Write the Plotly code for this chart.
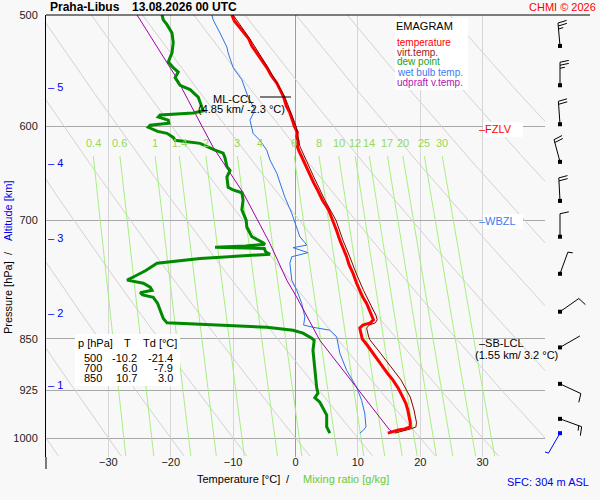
import numpy as np
import plotly.graph_objects as go

# Praha-Libus sounding, 13.08.2026 00 UTC
temp_p = [500, 505, 510, 515, 520, 526, 532, 538, 545, 552, 559, 566, 572, 580, 587, 594, 600, 606, 610, 615,
          620, 624, 631, 640, 650, 658, 667, 677, 688, 700, 712, 723, 733, 743, 753, 763, 776, 785, 794, 802,
          811, 818, 824, 828, 831, 835, 840, 846, 850, 860, 870, 880, 890, 900, 909, 922, 935, 945, 955, 965,
          975, 982, 985, 987, 990, 992]
temp_t = [-10.2, -9.8, -9.0, -8.3, -7.5, -7.0, -6.2, -5.5, -4.6, -3.9, -3.0, -2.4, -1.9, -1.5, -0.9, -0.5, -0.2, 0.3, 0.2, 0.4,
          0.3, 0.5, 1.0, 1.6, 2.4, 2.9, 3.6, 4.3, 5.3, 6.0, 6.6, 7.1, 7.7, 8.2, 8.6, 9.2, 9.8, 10.3, 10.8, 11.4,
          11.9, 12.3, 12.5, 12.0, 10.8, 10.3, 10.4, 10.6, 10.7, 11.6, 12.4, 13.2, 14.0, 14.8, 15.6, 16.5, 17.2, 17.7, 18.0, 18.2,
          18.4, 18.4, 17.5, 16.5, 15.2, 14.8]

virt_p = [500, 520, 545, 572, 600, 620, 650, 677, 700, 723, 743, 763, 785, 802, 818, 824, 828, 831, 835, 846,
          851, 870, 890, 909, 935, 955, 975, 982, 985, 990, 992]
virt_t = [-10.0, -7.3, -4.4, -1.7, 0.1, 0.7, 2.8, 4.7, 6.5, 7.6, 8.7, 9.7, 10.9, 12.0, 12.9, 13.1, 12.8, 11.8, 11.4, 11.7,
          11.9, 13.6, 15.3, 16.9, 18.4, 19.0, 19.4, 19.3, 18.5, 16.3, 15.9]

dew_p = [500, 504, 508, 515, 523, 532, 540, 545, 549, 554, 561, 565, 572, 581, 585, 587, 589, 591, 594, 597,
         599, 601, 605, 607, 611, 614, 617, 624, 627, 632, 641, 645, 652, 663, 666, 669, 677, 688, 700, 708,
         715, 719, 726, 728, 730, 731.5, 733, 737, 740, 741, 745, 751, 760, 768, 772, 776, 781, 785, 788, 791,
         794, 802, 811, 822, 828, 830, 834, 838, 842, 849, 852, 866, 895, 921, 929, 936, 943, 952, 963, 982,
         992]
dew_t = [-21.4, -21.2, -20.6, -19.8, -19.6, -19.8, -20.4, -19.6, -18.8, -19.3, -18.5, -16.9, -15.6, -15.0, -14.8, -16.4, -21.7, -22.0, -20.4, -20.3,
         -23.3, -23.6, -22.1, -20.6, -19.6, -19.3, -15.3, -12.9, -11.6, -11.3, -11.0, -10.5, -11.0, -10.8, -10.0, -8.6, -8.4, -8.6, -7.9, -7.8,
         -7.3, -7.0, -5.2, -4.9, -8.0, -12.9, -5.0, -4.8, -4.1, -6.2, -15.3, -22.2, -24.0, -26.0, -27.0, -24.4, -23.3, -23.0, -24.9, -24.5,
         -22.8, -22.1, -21.7, -21.2, -20.6, -15.3, -4.6, -0.4, 1.2, 2.6, 3.0, 2.8, 3.1, 3.4, 3.6, 3.1, 3.9, 4.4, 5.0, 5.0,
         5.5]

wetb_p = [500, 504, 515, 527, 532, 545, 556, 572, 584, 590, 594, 607, 614, 624, 634, 648, 674, 692, 708, 719,
          726, 729, 732, 738, 743, 751, 772, 785, 802, 820, 831, 834, 838, 847, 870, 895, 920, 940, 960, 982,
          988, 992]
wetb_t = [-13.4, -13.2, -12.1, -11.0, -10.8, -10.0, -8.6, -7.6, -6.5, -7.0, -7.3, -6.8, -5.7, -4.6, -4.1, -3.0, -1.7, -0.6, 0.2, 0.7,
          1.5, 1.8, -0.4, 2.0, -0.6, -0.9, -0.6, 0.2, 1.0, 1.5, 1.3, 2.8, 5.5, 6.6, 7.1, 8.2, 9.8, 10.6, 11.1, 11.3,
          10.8, 10.3]

parcel_p = [500, 554, 575, 621, 669, 727, 772, 794, 852, 914, 987, 990]
parcel_t = [-25.4, -19.1, -17.2, -13.2, -8.4, -4.1, -1.4, 0.2, 3.9, 9.2, 15.1, 15.6]

# wind barbs (direction deg, speed kt)
barb_p = [526, 561, 598, 636, 678, 719, 764, 813, 862, 915, 969]
barb_dir = [355, 0, 356, 345, 357, 0, 20, 55, 60, 115, 110]
barb_kt = [25, 25, 20, 20, 20, 10, 5, 10, 2, 10, 15]
sfc_p, sfc_dir, sfc_kt = 992, 210, 3

mixr_vals = [0.4, 0.6, 1, 1.4, 2, 3, 4, 6, 8, 10, 12, 14, 17, 20, 25, 30]
theta_vals = list(range(-40, 100, 10))   # dry adiabats, deg C at 1000 hPa
p_grid = [500, 600, 700, 850, 925, 1000]
t_ticks = [-30, -20, -10, 0, 10, 20, 30]

alt_km = [1, 2, 3, 4, 5]
alt_p = [917, 815, 720, 637, 563]

table_p = [500, 700, 850]
table_t = [-10.2, 6.0, 10.7]
table_td = [-21.4, -7.9, 3.0]

legend_items = [('temperature', '#ff0000'), ('virt.temp.', '#a01818'), ('dew point', '#22a022'),
                ('wet bulb temp.', '#3a7cf0'), ('udpraft v.temp.', '#b020b0')]

FONT = 'Liberation Sans, Arial, sans-serif'
W, H = 600, 500
ML, MR, MT, MB = 46, 8, 15, 43
PW, PH = W - ML - MR, H - MT - MB
P_TOP, P_BOT = 500, 1031.5
XDOM = 499 / PW
K = PH / np.log(P_BOT / P_TOP)   # px per unit of ln p


def fx(px):
    return (px - ML) / PW


def fy(py):
    return (H - MB - py) / PH


def td_from_w(w, p):
    e = w * p / (622 + w)
    a = np.log(e / 6.112)
    return 243.5 * a / (17.67 - a)


def barb_lines(p0, wdir, wspd, x0=560, shaft=23, full=9, half=5, gap=3):
    a = np.radians(wdir)
    fa = a + np.radians(78)

    def at(dist, flen=0):
        dx = dist * np.sin(a) + flen * np.sin(fa)
        du = dist * np.cos(a) + flen * np.cos(fa)
        return x0 + dx, p0 * np.exp(-du / K)

    segs = [(at(0), at(shaft))]
    n_full, n_half = divmod(int(round(wspd / 5)), 2)
    d = shaft
    for _ in range(n_full):
        segs.append((at(d), at(d, full)))
        d -= gap
    if n_half:
        segs.append((at(d), at(d, half)))
    xs, ys = [], []
    for (xa, ya), (xb, yb) in segs:
        xs += [xa, xb, None]
        ys += [ya, yb, None]
    return xs, ys


fig = go.Figure()

# dry adiabats
p_ad = np.geomspace(500, 1030, 80)
for th in theta_vals:
    t_ad = (th + 273.15) * (p_ad / 1000) ** 0.286 - 273.15
    fig.add_trace(go.Scatter(x=t_ad, y=p_ad, mode='lines', line=dict(color='#d2d2d2', width=1),
                             hoverinfo='skip', showlegend=False))

# mixing ratio lines
p_mix = np.geomspace(630, 1030, 30)
for w in mixr_vals:
    fig.add_trace(go.Scatter(x=td_from_w(w, p_mix), y=p_mix, mode='lines', line=dict(color='#a8ef80', width=1),
                             hoverinfo='skip', showlegend=False))

fig.add_trace(go.Scatter(x=wetb_t, y=wetb_p, mode='lines', line=dict(color='#2a72ea', width=1), showlegend=False))
fig.add_trace(go.Scatter(x=parcel_t, y=parcel_p, mode='lines', line=dict(color='#a000a8', width=1), showlegend=False))
fig.add_trace(go.Scatter(x=dew_t, y=dew_p, mode='lines', line=dict(color='#008a00', width=3), showlegend=False))
fig.add_trace(go.Scatter(x=temp_t, y=temp_p, mode='lines', line=dict(color='#ff0000', width=3), showlegend=False))
fig.add_trace(go.Scatter(x=virt_t, y=virt_p, mode='lines', line=dict(color='#8c0000', width=1), showlegend=False))

# wind barbs on their own narrow axis at the right
bx, by = [], []
for p0, d0, s0 in zip(barb_p, barb_dir, barb_kt):
    xs, ys = barb_lines(p0, d0, s0)
    bx += xs
    by += ys
fig.add_trace(go.Scatter(x=bx, y=by, xaxis='x2', yaxis='y2', mode='lines', line=dict(color='black', width=1),
                         hoverinfo='skip', showlegend=False))
fig.add_trace(go.Scatter(x=[560] * len(barb_p), y=barb_p, xaxis='x2', yaxis='y2', mode='markers',
                         marker=dict(color='black', size=4, symbol='square'), showlegend=False))
sx, sy = barb_lines(sfc_p, sfc_dir, sfc_kt)
fig.add_trace(go.Scatter(x=sx, y=sy, xaxis='x2', yaxis='y2', mode='lines', line=dict(color='#0000ff', width=1),
                         hoverinfo='skip', showlegend=False))
fig.add_trace(go.Scatter(x=[560], y=[sfc_p], xaxis='x2', yaxis='y2', mode='markers',
                         marker=dict(color='#0000ff', size=4, symbol='square'), showlegend=False))


def txt(text, x, y, size=11, color='black', xanchor='left', **kw):
    return dict(text=text, x=fx(x), y=fy(y), xref='paper', yref='paper', xanchor=xanchor, yanchor='middle',
                showarrow=False, borderpad=0, font=dict(family=FONT, size=size, color=color), **kw)


def box(x0, y0, x1, y1):
    return dict(type='rect', xref='paper', yref='paper', x0=fx(x0), x1=fx(x1), y0=fy(y1), y1=fy(y0),
                fillcolor='white', line=dict(width=0), layer='above')


def seg(x0, y0, x1, y1, color='black'):
    return dict(type='line', xref='paper', yref='paper', x0=fx(x0), x1=fx(x1), y0=fy(y0), y1=fy(y1),
                line=dict(color=color, width=1), layer='above')


annots = [
    txt('<b>Praha-Libus</b>', 49, 7, size=12),
    txt('<b>13.08.2026 00 UTC</b>', 131, 7, size=12),
    txt('CHMI © 2026', 597, 7, size=11, color='#ff0000', xanchor='right'),
    txt('EMAGRAM', 395, 26, size=11),
    txt('ML-CCL', 233, 99, xanchor='center'),
    txt('(4.85 km/ -2.3 °C)', 241, 109, xanchor='center'),
    txt('–FZLV', 478, 129, color='#ff0000'),
    txt('–WBZL', 478, 221, color='#3a7cf0'),
    txt('–SB-LCL', 478, 343),
    txt('(1.55 km/ 3.2 °C)', 516, 355, xanchor='center'),
    txt('SFC: 304 m ASL', 590, 482, color='#0000ee', xanchor='right'),
    txt('Temperature [°C]', 196, 479),
    txt('/', 288, 479, xanchor='center'),
    txt('Mixing ratio [g/kg]', 302, 479, color='#66cc33'),
    txt('Pressure [hPa]', 8, 298, xanchor='center', textangle=-90),
    txt('/', 8, 253, xanchor='center', textangle=-90),
    txt('Altitude [km]', 8, 211, color='#0000ee', xanchor='center', textangle=-90),
    txt('p [hPa]', 77, 343),
    txt('T', 127, 343, xanchor='center'),
    txt('Td [°C]', 142, 343),
]
for i, (name, col) in enumerate(legend_items):
    annots.append(txt(name, 396, 42 + 10 * i, size=10, color=col))
for i, (pp, tt, dd) in enumerate(zip(table_p, table_t, table_td)):
    yy = 358 + 10 * i
    annots.append(txt(str(pp), 103, yy, xanchor='right'))
    annots.append(txt(f'{tt:.1f}', 138, yy, xanchor='right'))
    annots.append(txt(f'{dd:.1f}', 174, yy, xanchor='right'))
for km, pp in zip(alt_km, alt_p):
    annots.append(dict(text=f'– {km}', x=fx(47), y=np.log10(pp), xref='paper', yref='y', xanchor='left',
                       yanchor='middle', showarrow=False, borderpad=0,
                       font=dict(family=FONT, size=11, color='#0000ee')))
for w in mixr_vals:
    annots.append(dict(text=f'{w:g}', x=float(td_from_w(w, 630)), y=np.log10(617), xref='x', yref='y',
                       xanchor='center', yanchor='middle', showarrow=False, borderpad=0,
                       font=dict(family=FONT, size=11, color='#94d85a')))

shapes = [
    box(395, 18, 468, 90),
    box(75, 334, 180, 386),
    box(483, 122, 523, 137),
    box(483, 214, 523, 229),
    seg(46, 15, 590, 15),
    seg(46, 457, 46, 469),
    seg(260, 97, 291, 97),
]

fig.update_layout(
    width=W, height=H,
    margin=dict(l=ML, r=MR, t=MT, b=MB, pad=0),
    paper_bgcolor='#f8f8f8', plot_bgcolor='#f8f8f8',
    showlegend=False,
    font=dict(family=FONT, size=11, color='#222222'),
    xaxis=dict(range=[-40, 40], domain=[0, XDOM], tickvals=t_ticks, showgrid=True, gridcolor='#d6d6d6',
               zeroline=True, zerolinecolor='#9c9c9c', zerolinewidth=1, showline=False, ticks='',
               ticklabelstandoff=-3, tickfont=dict(size=11)),
    yaxis=dict(type='log', range=[np.log10(P_BOT), np.log10(P_TOP)], tickvals=p_grid,
               ticktext=[str(v) for v in p_grid], showgrid=True, gridcolor='#a8a8a8', zeroline=False,
               showline=True, linecolor='black', linewidth=1, ticks='', ticklabelstandoff=5,
               tickfont=dict(size=11)),
    xaxis2=dict(domain=[XDOM, 1], range=[ML + PW * XDOM, W - MR], anchor='y2', visible=False),
    yaxis2=dict(type='log', range=[np.log10(P_BOT), np.log10(P_TOP)], domain=[0, 1], anchor='x2',
                visible=False, showgrid=False),
    annotations=annots,
    shapes=shapes,
)

# the page body keeps its default 8px margin otherwise
fig.write_html('out.html', config={'displayModeBar': False},
               post_script="document.body.style.margin='0';")
